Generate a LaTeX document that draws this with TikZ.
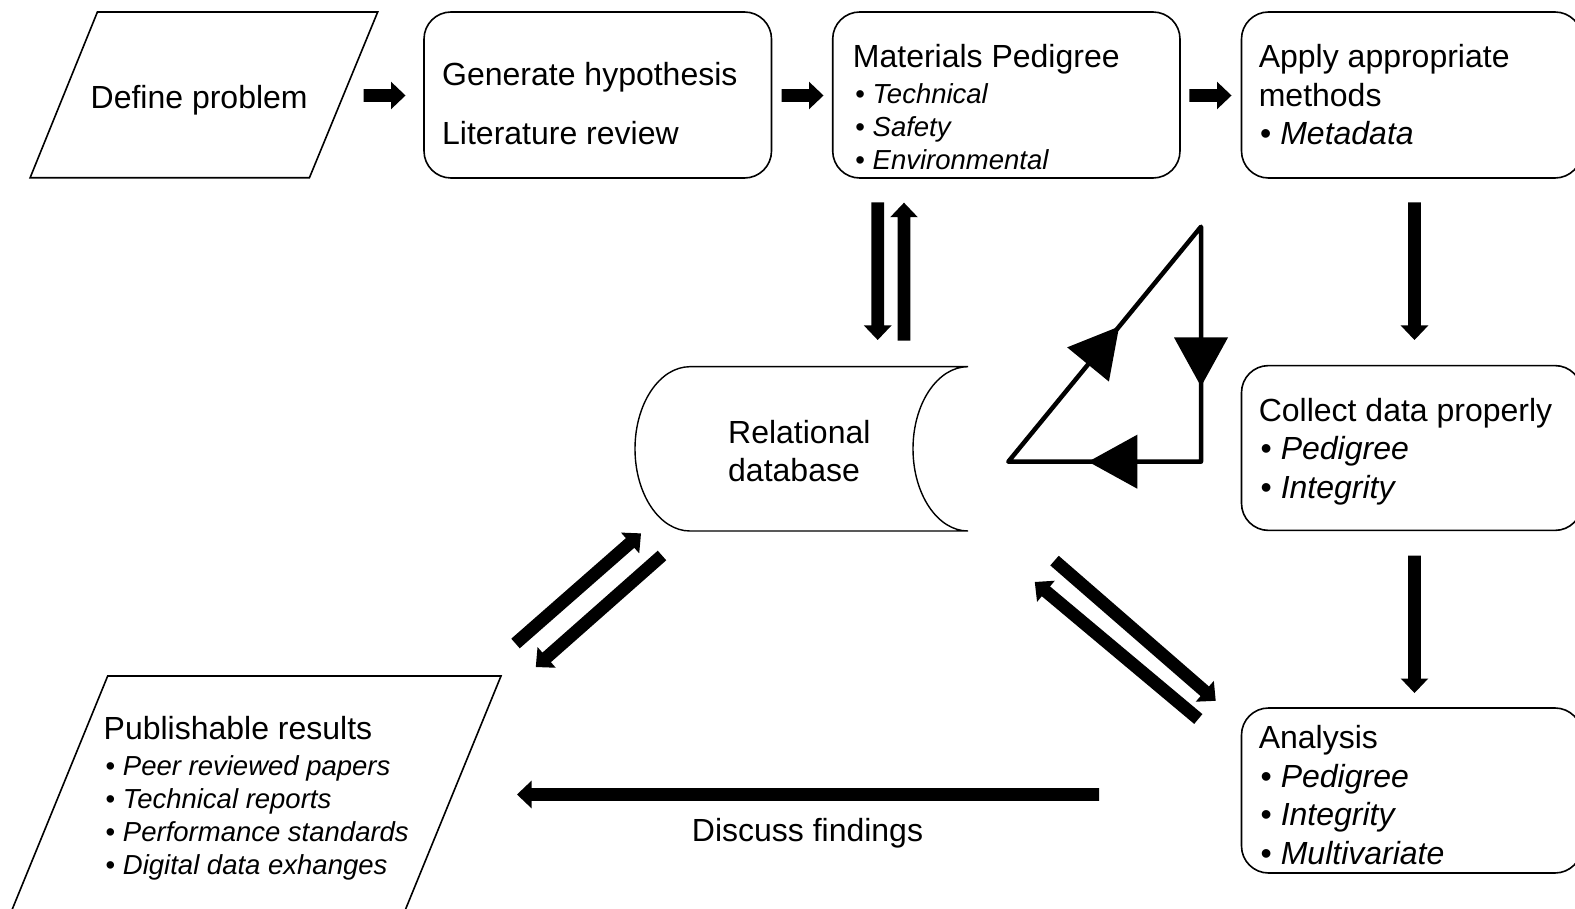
\documentclass[tikz,border=0pt]{standalone}
\usepackage{fontspec}
\setmainfont{Liberation Sans}
\usetikzlibrary{calc}

% thick block arrow from #1 to #2 (tip at #2)
\newcommand\blockarrow[2]{%
  \coordinate (bahead) at ($(#2)!14.5pt!(#1)$);
  \fill ($(#1)!6.4pt!90:(#2)$) -- ($(bahead)!6.4pt!90:(#2)$) -- ($(bahead)!13.8pt!90:(#2)$) -- (#2)
     -- ($(bahead)!13.8pt!-90:(#2)$) -- ($(bahead)!6.4pt!-90:(#2)$) -- ($(#1)!6.4pt!-90:(#2)$) -- cycle;}
% large triangular head sitting on the segment #1--#2, tip at fraction #3
\newcommand\midhead[3]{%
  \coordinate (mhtip) at ($(#1)!#3!(#2)$);
  \coordinate (mhbase) at ($(mhtip)!49pt!(#1)$);
  \fill (mhtip) -- ($(mhbase)!27pt!90:(mhtip)$) -- ($(mhbase)!27pt!-90:(mhtip)$) -- cycle;}

\begin{document}
\begin{tikzpicture}[x=1pt,y=-1pt,
  box/.style={draw, line width=1.6pt, rounded corners=27pt, inner sep=0pt},
  outline/.style={line width=1.6pt, line join=miter},
  txt/.style={anchor=base west, inner sep=0pt, font=\fontsize{32}{38.4}\selectfont},
  sml/.style={anchor=base west, inner sep=0pt, font=\fontsize{27.5}{33}\selectfont},
  loopline/.style={line width=4.5pt, line join=round, line cap=round}]
\useasboundingbox (0,0) rectangle (1575,909);
\fill[white] (0,0) rectangle (1575,909);

% ---------- process boxes ----------
\node[box, minimum width=347.5pt, minimum height=166pt] (gen) at (597.75,95) {};
\node[box, minimum width=347.3pt, minimum height=166pt] (mat) at (1006.35,95) {};
\node[box, minimum width=340.5pt, minimum height=166pt] (app) at (1411.75,95) {};
\node[box, minimum width=340.5pt, minimum height=164.8pt] (col) at (1411.75,448) {};
\node[box, minimum width=340.5pt, minimum height=165pt] (ana) at (1411.75,790.5) {};

% ---------- input / output parallelograms ----------
\coordinate (defA) at (97.4,12);   \coordinate (defB) at (377.7,12);
\coordinate (defC) at (309.4,177.8); \coordinate (defD) at (30.1,177.8);
\draw[outline] (defA) -- (defB) -- (defC) -- (defD) -- cycle;
\coordinate (pubA) at (107.7,676); \coordinate (pubB) at (501,676);
\coordinate (pubC) at (403.2,915); \coordinate (pubD) at (9.9,915);
\draw[outline] (pubA) -- (pubB) -- (pubC) -- (pubD) -- cycle;

% ---------- database drum ----------
\draw[line width=1.4pt] (690,366.7) -- (968,366.7)
  arc[start angle=-90, end angle=-270, x radius=55, y radius=82.15]
  -- (690,531)
  arc[start angle=90, end angle=270, x radius=55, y radius=82.15] -- cycle;

% ---------- texts ----------
\node[txt] (tdef) at (90.5,108.5) {Define problem};
\node[txt] (tgen1) at (442,85.5) {Generate hypothesis};
\node[txt] (tgen2) at (442,144.5) {Literature review};
\node[txt] (tmat) at (852.7,68) {Materials Pedigree};
\node[sml] (tmat1) at (855.2,103.5) {• \textit{Technical}};
\node[sml] (tmat2) at (855.2,136.7) {• \textit{Safety}};
\node[sml] (tmat3) at (855.2,169.9) {• \textit{Environmental}};
\node[txt] (tapp1) at (1258.6,68) {Apply appropriate};
\node[txt] (tapp2) at (1258.6,106.4) {methods};
\node[txt] (tapp3) at (1260,144.8) {• \textit{Metadata}};
\node[txt] (tcol1) at (1258.6,421.5) {Collect data properly};
\node[txt] (tcol2) at (1260.5,459.9) {• \textit{Pedigree}};
\node[txt] (tcol3) at (1260.5,498.3) {• \textit{Integrity}};
\node[txt] (tana1) at (1258.6,748.8) {Analysis};
\node[txt] (tana2) at (1260.5,787.2) {• \textit{Pedigree}};
\node[txt] (tana3) at (1260.5,825.6) {• \textit{Integrity}};
\node[txt] (tana4) at (1260.5,864) {• \textit{Multivariate}};
\node[txt] (tdb1) at (728,443) {Relational};
\node[txt] (tdb2) at (728,481.5) {database};
\node[txt] (tpub) at (103.5,739.5) {Publishable results};
\node[sml] (tpub1) at (105.5,775) {• \textit{Peer reviewed papers}};
\node[sml] (tpub2) at (105.5,808.2) {• \textit{Technical reports}};
\node[sml] (tpub3) at (105.5,841.4) {• \textit{Performance standards}};
\node[sml] (tpub4) at (105.5,874.6) {• \textit{Digital data exhanges}};
\node[txt, anchor=base] (tdisc) at (807.5,841.5) {Discuss findings};

% ---------- block arrows ----------
\coordinate (a1s) at (363.5,95.5);   \coordinate (a1e) at (405.5,95.5);
\coordinate (a2s) at (781.5,95.5);   \coordinate (a2e) at (823.5,95.5);
\coordinate (a3s) at (1189.3,95.5);  \coordinate (a3e) at (1231.5,95.5);
\coordinate (a4s) at (877.7,202.3);  \coordinate (a4e) at (877.7,340);
\coordinate (a5s) at (904,340.7);    \coordinate (a5e) at (904,202.7);
\coordinate (a6s) at (1414.5,202.3); \coordinate (a6e) at (1414.5,340);
\coordinate (a7s) at (1414.5,555.5); \coordinate (a7e) at (1414.5,693);
\coordinate (a8s) at (515.5,643.5);  \coordinate (a8e) at (641,533.4);
\coordinate (a9s) at (662,555.5);    \coordinate (a9e) at (535.8,667);
\coordinate (a10s) at (1054.5,560.6); \coordinate (a10e) at (1215.7,700.8);
\coordinate (a11s) at (1198.3,719);  \coordinate (a11e) at (1034.8,582);
\coordinate (a12s) at (1099,794.5);  \coordinate (a12e) at (517,794.5);
\blockarrow{a1s}{a1e}
\blockarrow{a2s}{a2e}
\blockarrow{a3s}{a3e}
\blockarrow{a4s}{a4e}
\blockarrow{a5s}{a5e}
\blockarrow{a6s}{a6e}
\blockarrow{a7s}{a7e}
\blockarrow{a8s}{a8e}
\blockarrow{a9s}{a9e}
\blockarrow{a10s}{a10e}
\blockarrow{a11s}{a11e}
\blockarrow{a12s}{a12e}

% ---------- cycle triangle ----------
\coordinate (cycL) at (1008.3,461.7);
\coordinate (cycT) at (1201,226.7);
\coordinate (cycR) at (1201,461.7);
\draw[loopline] (cycL) -- (cycT) -- (cycR) -- cycle;
\midhead{cycT}{cycR}{0.68}
\midhead{cycR}{cycL}{0.585}
\midhead{cycL}{cycT}{0.575}
\end{tikzpicture}
\end{document}
